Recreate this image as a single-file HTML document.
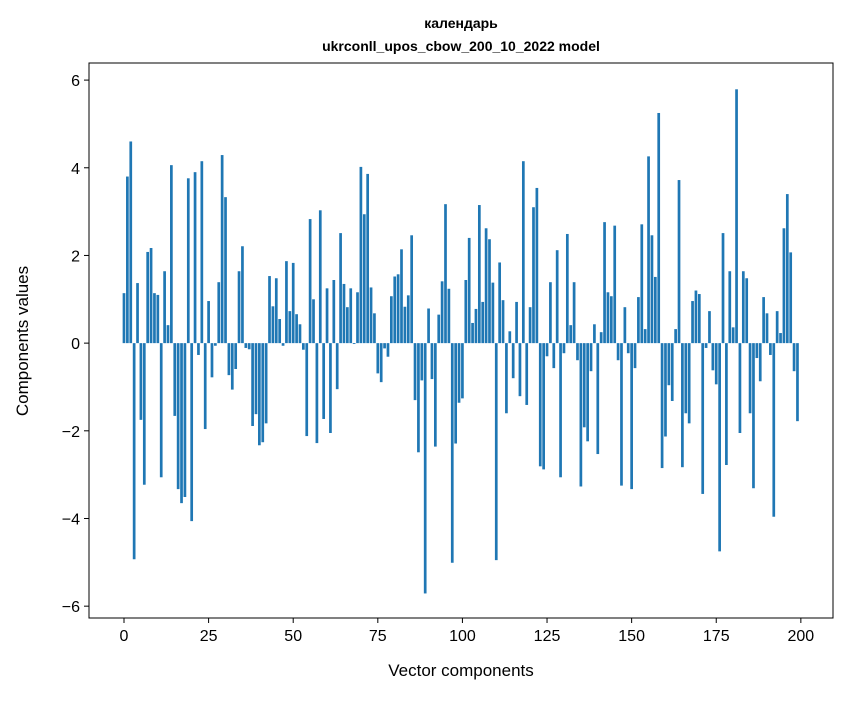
<!DOCTYPE html>
<html><head><meta charset="utf-8"><style>
body{margin:0;background:#fff;font-family:"Liberation Sans","DejaVu Sans",sans-serif}
</style></head><body>
<svg id="chart" width="847" height="696" xmlns="http://www.w3.org/2000/svg" font-family="Liberation Sans, DejaVu Sans, sans-serif">
<rect width="847" height="696" fill="#fff"/>
<text x="461" y="28" text-anchor="middle" font-size="14" font-weight="bold">календарь</text>
<text x="461" y="51" text-anchor="middle" font-size="14" font-weight="bold">ukrconll_upos_cbow_200_10_2022 model</text>
<g id="bars"></g>
<g id="axes"></g>
<text x="461" y="676" text-anchor="middle" font-size="17">Vector components</text>
<text transform="translate(28,341) rotate(-90)" text-anchor="middle" font-size="17">Components values</text>
</svg>
<script>
const values = [1.14,3.8,4.6,-4.93,1.37,-1.75,-3.23,2.08,2.17,1.14,1.1,-3.06,1.64,0.41,4.06,-1.66,-3.33,-3.65,-3.51,3.76,-4.06,3.9,-0.27,4.15,-1.96,0.96,
-0.78,-0.06,1.39,4.29,3.33,-0.73,-1.06,-0.59,1.64,2.21,-0.11,-0.14,-1.89,-1.62,-2.33,-2.26,-1.83,1.53,0.84,1.48,0.55,-0.06,1.87,0.73,
1.83,0.66,0.43,-0.15,-2.12,2.83,1.0,-2.28,3.03,-1.73,1.25,-2.05,1.44,-1.05,2.51,1.35,0.82,1.25,-0.02,1.16,4.02,2.94,3.86,1.27,0.68,
-0.69,-0.89,-0.12,-0.31,1.07,1.52,1.57,2.14,0.83,1.09,2.46,-1.3,-2.49,-0.85,-5.71,0.79,-0.82,-2.36,0.65,1.41,3.17,1.24,-5.01,-2.29,-1.36,
-1.26,1.44,2.4,0.46,0.78,3.15,0.94,2.62,2.37,1.38,-4.95,1.84,0.98,-1.6,0.27,-0.8,0.94,-1.21,4.15,-1.41,0.82,3.1,3.54,-2.81,-2.88,
-0.3,1.39,-0.57,2.12,-3.06,-0.23,2.49,0.41,1.39,-0.39,-3.27,-1.92,-2.24,-0.64,0.43,-2.53,0.25,2.76,1.16,1.07,2.68,-0.39,-3.25,0.82,-0.23,
-3.33,-0.57,1.05,2.71,0.32,4.26,2.46,1.51,5.25,-2.85,-2.13,-0.96,-1.32,0.32,3.72,-2.83,-1.6,-1.83,0.96,1.2,1.12,-3.44,-0.11,0.73,-0.62,
-0.94,-4.75,2.51,-2.78,1.64,0.36,5.79,-2.05,1.64,1.48,-1.6,-3.31,-0.34,-0.87,1.05,0.68,-0.27,-3.96,0.73,0.23,2.62,3.4,2.07,-0.64,-1.78];
const xTicks = [0,25,50,75,100,125,150,175,200];
const yTicks = [-6,-4,-2,0,2,4,6];
const yTickLabels = ["\u22126","\u22124","\u22122","0","2","4","6"];

const L=89,R=833,T=63,B=618;
const x0=-10.34,x1=209.5,y0=-6.27,y1=6.39;
const sx=u=>L+(u-x0)/(x1-x0)*(R-L);
const sy=v=>B-(v-y0)/(y1-y0)*(B-T);
const NS="http://www.w3.org/2000/svg";
const bars=document.getElementById('bars');
values.forEach((v,i)=>{
  const r=document.createElementNS(NS,'rect');
  const xa=sx(i-0.4),xb=sx(i+0.4);
  const ya=sy(Math.max(v,0)),yb=sy(Math.min(v,0));
  r.setAttribute('x',xa);r.setAttribute('width',xb-xa);
  r.setAttribute('y',ya);r.setAttribute('height',Math.max(yb-ya,0.3));
  r.setAttribute('fill','#1f77b4');
  
  
  bars.appendChild(r);
});
const ax=document.getElementById('axes');
function add(tag,attrs,txt){const e=document.createElementNS(NS,tag);for(const k in attrs)e.setAttribute(k,attrs[k]);if(txt!==undefined)e.textContent=txt;ax.appendChild(e);return e;}
const frame=add('rect',{x:L,y:T,width:R-L,height:B-T,fill:'none',stroke:'#000','stroke-width':1});


xTicks.forEach(t=>{
  const px=sx(t);
  const l=add('line',{x1:px,x2:px,y1:B,y2:B+5,stroke:'#000'});
  
  
  const tx=add('text',{x:px,y:B+23,'text-anchor':'middle','font-size':16},String(t));
  
  
});
yTicks.forEach((t,i)=>{
  const py=sy(t);
  const l=add('line',{x1:L-5,x2:L,y1:py,y2:py,stroke:'#000'});
  
  
  const tx=add('text',{x:L-9,y:py+6,'text-anchor':'end','font-size':16},yTickLabels[i]);
  
  
});
</script>
</body></html>
